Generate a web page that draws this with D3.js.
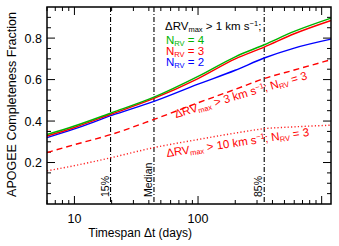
<!DOCTYPE html>
<html>
<head>
<meta charset="utf-8">
<script src="https://cdn.jsdelivr.net/npm/d3@7"></script>
<style>
  body { margin: 0; background: #fff; }
  svg text { font-family: "Liberation Sans", Arial, sans-serif; }
</style>
</head>
<body>
<div id="chart"></div>
<script>
// timespan (days) sampled along the curves
var days = [6, 10, 20, 44, 100, 200, 343, 600, 1190];
// dRV > 1 km/s
var nrv4 = [0.335, 0.376, 0.44, 0.515, 0.615, 0.71, 0.768, 0.832, 0.896];
var nrv3 = [0.328, 0.369, 0.434, 0.509, 0.605, 0.70, 0.757, 0.821, 0.885];
var nrv2 = [0.32, 0.362, 0.427, 0.495, 0.578, 0.645, 0.704, 0.752, 0.795];
// dRV > 3 and > 10 km/s, N_RV = 3
var rv3 = [0.248, 0.286, 0.336, 0.408, 0.488, 0.553, 0.605, 0.646, 0.696];
var rv10 = [0.16, 0.185, 0.224, 0.272, 0.311, 0.342, 0.363, 0.372, 0.38];
// percentiles of timespan
var markDays = [19.6, 44, 343];
var markLabels = ["15%", "Median", "85%"];
var yTicks = [0.2, 0.4, 0.6, 0.8];
var xTicks = [10, 100];

var width = 339, height = 246;
var margin = {top: 7, right: 8, bottom: 42, left: 47};
var w = width - margin.left - margin.right,
    h = height - margin.top - margin.bottom;

var svg = d3.select("#chart").append("svg")
  .attr("width", width)
  .attr("height", height);

var g = svg.append("g")
  .attr("transform", "translate(" + margin.left + "," + margin.top + ")");

var x = d3.scaleLog().domain([6, 1190]).range([0, w]);
var y = d3.scaleLinear().domain([0, 0.95]).range([h, 0]);

// ticks, all pointing inward
var minorX = [];
[1, 10, 100, 1000].forEach(function(d) {
  for (var k = 1; k < 10; k++) {
    var v = d * k;
    if (v >= 6 && v <= 1190) minorX.push(v);
  }
});
var minorY = d3.range(0.05, 0.95, 0.05);

function tickLines(sel, vals, len, isX, side) {
  sel.selectAll(null).data(vals).enter().append("line")
    .attr("x1", function(d) { return isX ? x(d) : (side ? w : 0); })
    .attr("x2", function(d) { return isX ? x(d) : (side ? w - len : len); })
    .attr("y1", function(d) { return isX ? (side ? 0 : h) : y(d); })
    .attr("y2", function(d) { return isX ? (side ? len : h - len) : y(d); })
    .attr("stroke", "#000")
    .attr("stroke-width", 1);
}
var ticks = g.append("g");
var majX = [10, 100, 1000];
[0, 1].forEach(function(s) {
  tickLines(ticks, minorX.filter(function(d) { return majX.indexOf(d) < 0; }), 4, true, s);
  tickLines(ticks, majX, 8, true, s);
  tickLines(ticks, minorY.filter(function(d) { return Math.round(d * 100) % 20 != 0; }), 4, false, s);
  tickLines(ticks, yTicks, 8, false, s);
});

// tick labels
g.selectAll(".xl").data(xTicks).enter().append("text")
  .attr("x", function(d) { return x(d); })
  .attr("y", h + 19)
  .attr("text-anchor", "middle")
  .style("font-size", "12.5px")
  .text(function(d) { return d; });

g.selectAll(".yl").data(yTicks).enter().append("text")
  .attr("x", -5)
  .attr("y", function(d) { return y(d) + 4.5; })
  .attr("text-anchor", "end")
  .style("font-size", "12.5px")
  .text(function(d) { return d.toFixed(1); });

// percentile markers
g.selectAll(".mk").data(markDays).enter().append("line")
  .attr("x1", function(d) { return x(d); })
  .attr("x2", function(d) { return x(d); })
  .attr("y1", 0).attr("y2", h)
  .attr("stroke", "#000")
  .attr("stroke-width", 1.1)
  .attr("stroke-dasharray", "5,2,1,2");

g.selectAll(".mkl").data(markDays).enter().append("text")
  .attr("transform", function(d) { return "translate(" + (x(d) - 2) + "," + (h - 7) + ") rotate(-90)"; })
  .style("font-size", "10.5px")
  .text(function(d, i) { return markLabels[i]; });

// curves
var line = d3.line()
  .x(function(d) { return x(d[0]); })
  .y(function(d) { return y(d[1]); })
  .curve(d3.curveMonotoneX);

var series = [
  {vals: rv10, color: "#ff2020", dash: "1.2,2.2"},
  {vals: rv3, color: "#ff0000", dash: "6,4"},
  {vals: nrv2, color: "#0000ff", dash: null},
  {vals: nrv3, color: "#ff0000", dash: null},
  {vals: nrv4, color: "#00b400", dash: null}
];
g.selectAll(".curve").data(series).enter().append("path")
  .attr("d", function(s) { return line(d3.zip(days, s.vals)); })
  .attr("fill", "none")
  .attr("stroke", function(s) { return s.color; })
  .attr("stroke-width", 1.4)
  .attr("stroke-dasharray", function(s) { return s.dash; });

// frame
g.append("rect")
  .attr("width", w).attr("height", h)
  .attr("fill", "none")
  .attr("stroke", "#000")
  .attr("stroke-width", 1.5);

// legend text
function sub(t, s, big) {
  t.append("tspan").text(s).style("font-size", "7.5px").attr("dy", 2);
  t.append("tspan").text(big).attr("dy", -2);
}
var lg = svg.append("g").style("font-size", "11.5px");
var t1 = lg.append("text").attr("x", 165).attr("y", 30).attr("fill", "#000");
t1.append("tspan").text("ΔRV");
sub(t1, "max", " > 1 km s");
t1.append("tspan").text("−1").style("font-size", "7.5px").attr("dy", -4);
t1.append("tspan").text(";").attr("dy", 4);

[["4", "#00b400", 44], ["3", "#ff0000", 55], ["2", "#0000ff", 66]].forEach(function(r) {
  var t = lg.append("text").attr("x", 166).attr("y", r[2]).attr("fill", r[1]);
  t.append("tspan").text("N");
  sub(t, "RV", " = " + r[0]);
});

function slanted(xp, yp, ang, speed) {
  var t = svg.append("text")
    .attr("transform", "translate(" + xp + "," + yp + ") rotate(" + ang + ")")
    .attr("fill", "#ff0000")
    .style("font-size", "11.5px");
  t.append("tspan").text("ΔRV");
  sub(t, "max", " > " + speed + " km s");
  t.append("tspan").text("−1").style("font-size", "7.5px").attr("dy", -4);
  t.append("tspan").text("; N").attr("dy", 4);
  sub(t, "RV", " = 3");
}
slanted(176, 118, -16.5, 3);
slanted(167, 157, -8.5, 10);

// axis titles
svg.append("text")
  .attr("x", margin.left + x(34))
  .attr("y", 237)
  .attr("text-anchor", "middle")
  .style("font-size", "12px")
  .text("Timespan Δt (days)");

svg.append("text")
  .attr("transform", "translate(16," + (margin.top + h / 2 - 1) + ") rotate(-90)")
  .attr("text-anchor", "middle")
  .style("font-size", "12.5px")
  .text("APOGEE Completeness Fraction");
</script>
</body>
</html>
